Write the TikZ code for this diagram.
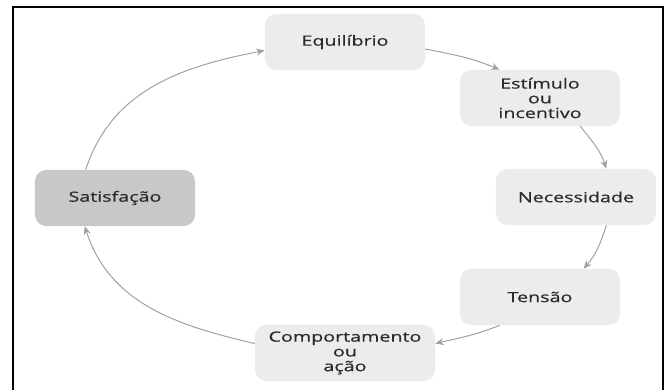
\documentclass[tikz,border=0pt]{standalone}
\usepackage{fontspec}
\setmainfont[FakeStretch=1.4, FakeBold=0.6]{Open Sans}
\usepackage{tikz}
\usetikzlibrary{arrows.meta}

\definecolor{boxgray}{HTML}{ECECEC}
\definecolor{darkbox}{HTML}{C8C8C8}
\definecolor{arrgray}{HTML}{A0A0A0}
\definecolor{txtgray}{HTML}{2B2B2B}

\begin{document}
\begin{tikzpicture}[x=0.025cm, y=0.025cm,
  stage/.style={rectangle, rounded corners=8pt, fill=boxgray, draw=none,
                minimum width=4cm, minimum height=1.4cm, align=center,
                text=txtgray, font=\fontsize{10}{10.5}\selectfont},
  cycle/.style={-{Stealth[length=6pt, width=5pt]}, arrgray, line width=0.7pt}
]
  \useasboundingbox (0,0) rectangle (670,390);

  % frame (open at the bottom)
  \draw[line width=2pt] (13,0) -- (13,383) -- (663,383) -- (663,0);

  % stages of the cycle
  \node[stage] (equi)    at (345,348) {Equilíbrio};
  \node[stage] (estim)   at (540,292) {Estímulo\\ou\\incentivo};
  \node[stage] (neces)   at (576,193) {Necessidade};
  \node[stage] (tensao)  at (540,93)  {Tensão};
  \node[stage, minimum width=4.5cm] (comport) at (345,37) {Comportamento\\ou\\ação};
  \node[stage, fill=darkbox] (satisf) at (115,192) {Satisfação};

  % arrows round the cycle
  \draw[cycle] (equi.-5)     to[out=-11, in=157] (estim.145);
  \draw[cycle] (estim.-35)   to[out=-52, in=108] (neces.43);
  \draw[cycle] (neces.-43)   to[out=-108, in=49] (tensao.33);
  \draw[cycle] (tensao.215)  to[out=202, in=13]  (comport.6);
  \draw[cycle] (comport.174) to[out=167, in=-72] (satisf.223);
  \draw[cycle] (satisf.136)  to[out=72, in=191]  (equi.186);
\end{tikzpicture}
\end{document}
